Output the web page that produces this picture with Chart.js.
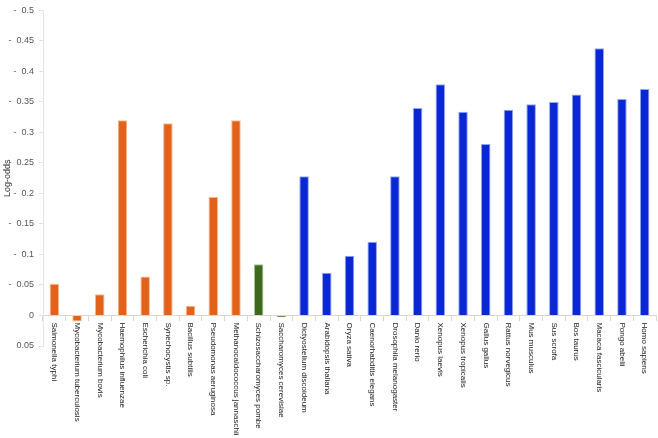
<!DOCTYPE html>
<html>
<head>
<meta charset="utf-8">
<script src="https://cdn.jsdelivr.net/npm/chart.js@4/dist/chart.umd.min.js"></script>
<style>
  html, body { margin: 0; padding: 0; background: #fff; }
  #wrap { width: 658px; height: 438px; }
</style>
</head>
<body>
<div id="wrap"><canvas id="chart"></canvas></div>
<script>
const species = [
    'Salmonella typhi', 'Mycobacterium tuberculosis', 'Mycobacterium bovis',
    'Haemophilus influenzae', 'Escherichia coli', 'Synechocystis sp.',
    'Bacillus subtilis', 'Pseudomonas aeruginosa', 'Methanocaldococcus jannaschii',
    'Schizosaccharomyces pombe', 'Saccharomyces cerevisiae', 'Dictyostelium discoideum',
    'Arabidopsis thaliana', 'Oryza sativa', 'Caenorhabditis elegans',
    'Drosophila melanogaster', 'Danio rerio', 'Xenopus laevis', 'Xenopus tropicalis',
    'Gallus gallus', 'Rattus norvegicus', 'Mus musculus', 'Sus scrofa', 'Bos taurus',
    'Macaca fascicularis', 'Pongo abelii', 'Homo sapiens'
];
const logOdds = [
    0.052, -0.01, 0.035, 0.32, 0.064, 0.315, 0.016, 0.194, 0.32,
    0.084, -0.003, 0.228, 0.07, 0.098, 0.121, 0.228, 0.34, 0.379, 0.334,
    0.281, 0.337, 0.346, 0.35, 0.362, 0.438, 0.355, 0.371
];
// group of each species: 0 = prokaryote, 1 = yeast, 2 = other eukaryote
const groups = [0,0,0,0,0,0,0,0,0, 1,1, 2,2,2,2,2,2,2,2,2,2,2,2,2,2,2,2];
const fillColors = ['#e2621b', '#3e6a1e', '#0a27d6'];
const edgeColors = ['#f6b88e', '#a9c590', '#93a6f2'];

// draws the category names rotated clockwise, reading top to bottom
const verticalLabels = {
    id: 'verticalLabels',
    afterDraw(chart) {
        const ctx = chart.ctx;
        const x = chart.scales.x;
        const zeroY = chart.scales.y.getPixelForValue(0);
        ctx.save();
        ctx.font = '8px "Liberation Sans", sans-serif';
        ctx.fillStyle = '#222';
        ctx.textAlign = 'left';
        ctx.textBaseline = 'middle';
        species.forEach((name, i) => {
            ctx.save();
            ctx.translate(x.getPixelForValue(i), zeroY + 7);
            ctx.rotate(Math.PI / 2);
            ctx.fillText(name, 0, 0);
            ctx.restore();
        });
        ctx.restore();
    }
};

new Chart(document.getElementById('chart'), {
    type: 'bar',
    data: {
        labels: species,
        datasets: [{
            data: logOdds,
            backgroundColor: groups.map(g => fillColors[g]),
            borderColor: groups.map(g => edgeColors[g]),
            borderWidth: 1,
            barPercentage: 0.42,
            categoryPercentage: 1
        }]
    },
    options: {
        responsive: true,
        maintainAspectRatio: false,
        animation: false,
        layout: { padding: { top: 6, right: 2, bottom: 92, left: 2 } },
        plugins: {
            legend: { display: false },
            tooltip: { enabled: false }
        },
        scales: {
            x: {
                position: { y: 0 },
                offset: true,
                ticks: { display: false },
                grid: {
                    offset: true,
                    drawOnChartArea: false,
                    tickLength: 5,
                    color: '#dcd6cc'
                },
                border: { color: '#dcd6cc' }
            },
            y: {
                min: -0.05,
                max: 0.5,
                afterFit(scale) { scale.width = 41; },
                ticks: {
                    stepSize: 0.05,
                    color: '#555',
                    font: { family: '"Liberation Sans", sans-serif', size: 9 },
                    padding: 5,
                    callback(value) {
                        const v = Math.round(value * 100) / 100;
                        if (v > 0) return '-  ' + v;
                        return String(Math.abs(v));
                    }
                },
                grid: {
                    drawOnChartArea: false,
                    tickLength: 4,
                    color: '#e3e3e3'
                },
                border: { color: '#e3e3e3' },
                title: {
                    display: true,
                    text: 'Log-odds',
                    color: '#333',
                    font: { family: '"Liberation Sans", sans-serif', size: 9 },
                    padding: 0
                }
            }
        }
    },
    plugins: [verticalLabels]
});
</script>
</body>
</html>
